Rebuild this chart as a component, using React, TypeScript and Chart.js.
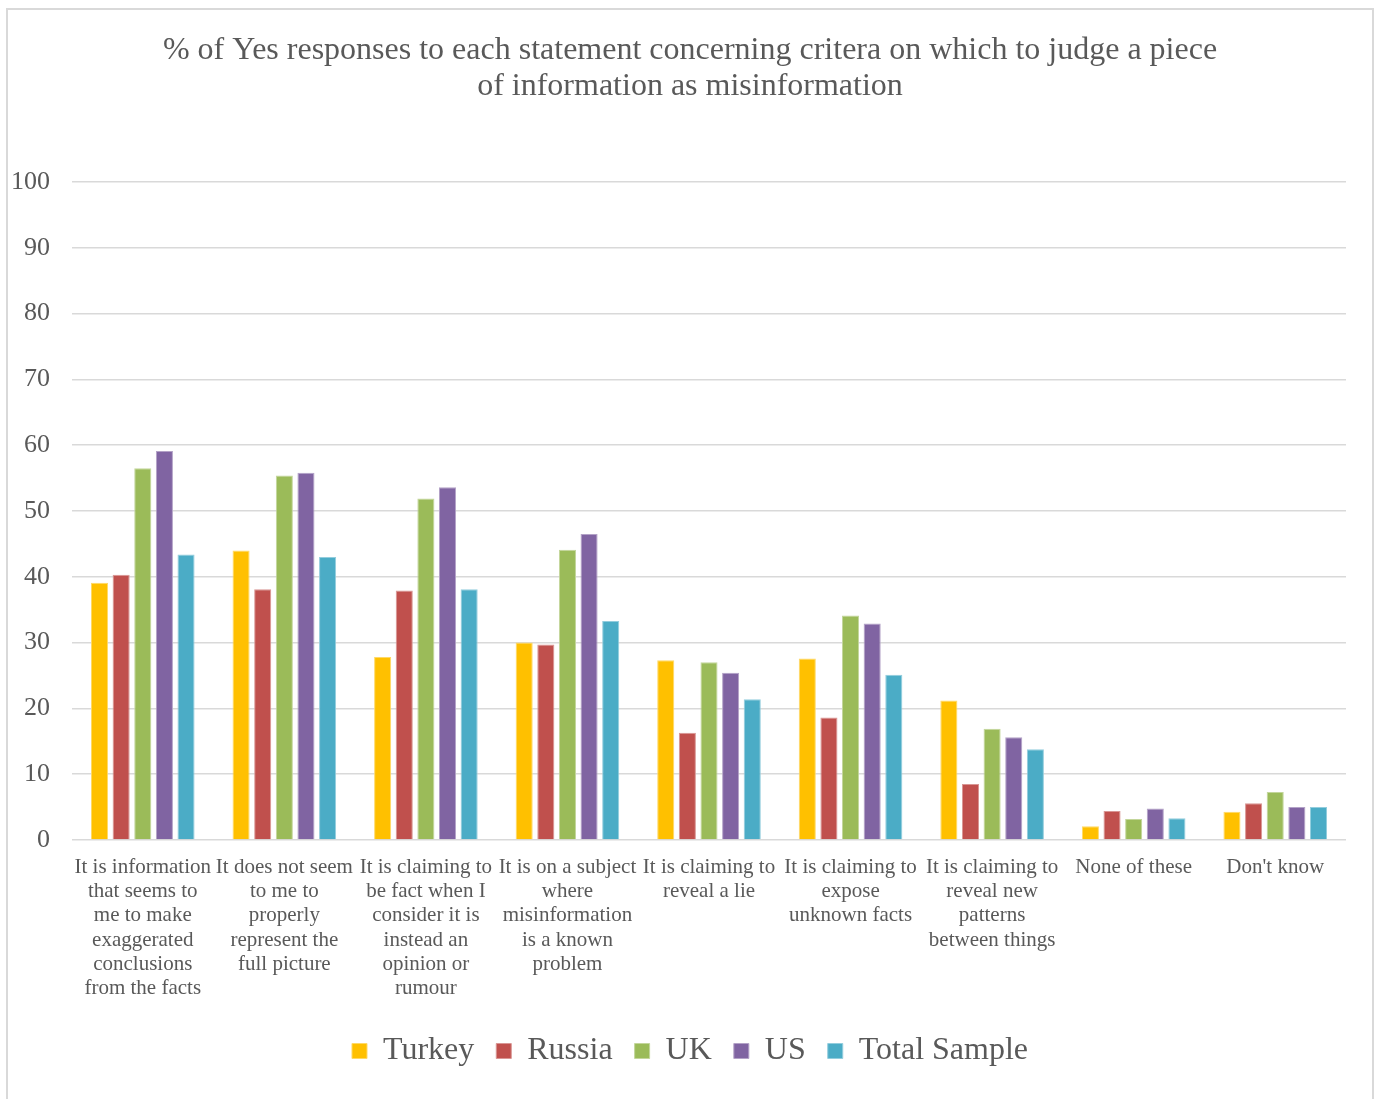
import React, { useEffect, useRef } from "react";
import { Chart, registerables } from "chart.js";

Chart.register(...registerables);

const categories: (string | string[])[] = [
  ["It is information", "that seems to", "me to make", "exaggerated", "conclusions", "from the facts"],
  ["It does not seem", "to me to", "properly", "represent the", "full picture"],
  ["It is claiming to", "be fact when I", "consider it is", "instead an", "opinion or", "rumour"],
  ["It is on a subject", "where", "misinformation", "is a known", "problem"],
  ["It is claiming to", "reveal a lie"],
  ["It is claiming to", "expose", "unknown facts"],
  ["It is claiming to", "reveal new", "patterns", "between things"],
  "None of these",
  "Don't know",
];

const turkey = [39.1, 44.0, 27.8, 30.0, 27.3, 27.6, 21.2, 2.1, 4.3];
const russia = [40.3, 38.1, 37.9, 29.7, 16.3, 18.6, 8.5, 4.4, 5.6];
const uk = [56.5, 55.4, 51.9, 44.1, 27.0, 34.1, 16.9, 3.2, 7.3];
const us = [59.1, 55.8, 53.6, 46.5, 25.4, 32.9, 15.6, 4.8, 5.0];
const totalSample = [43.4, 43.0, 38.1, 33.3, 21.4, 25.1, 13.8, 3.3, 5.0];

const seriesNames = ["Turkey", "Russia", "UK", "US", "Total Sample"];
const seriesColors = ["#FFC000", "#C0504D", "#9BBB59", "#8064A2", "#4BACC6"];
const seriesBorders = ["#FFD966", "#D99694", "#C3D69B", "#B3A2C7", "#93CDDD"];

const titleLines = [
  "% of Yes responses to each statement concerning critera on which to judge a piece",
  "of information as misinformation",
];

const FONT = "'Liberation Serif', 'Times New Roman', serif";
const TEXT = "#595959";

// centre the title and legend on the whole canvas rather than on the padded box
const centerFix = {
  id: "centerFix",
  afterLayout(chart: any) {
    const w = chart.width;
    if (chart.titleBlock) {
      chart.titleBlock.left = 0;
      chart.titleBlock.right = w;
    }
    if (chart.legend) {
      chart.legend.left = 0;
      chart.legend.right = w;
    }
  },
};

export default function App() {
  const canvasRef = useRef<HTMLCanvasElement | null>(null);

  useEffect(() => {
    if (!canvasRef.current) return;
    const values = [turkey, russia, uk, us, totalSample];
    const chart = new Chart(canvasRef.current, {
      type: "bar",
      data: {
        labels: categories,
        datasets: seriesNames.map((name, i) => ({
          label: name,
          data: values[i],
          backgroundColor: seriesColors[i],
          borderColor: seriesBorders[i],
          borderWidth: 1,
          categoryPercentage: 0.764,
          barPercentage: 0.79,
        })),
      },
      options: {
        animation: false,
        responsive: true,
        maintainAspectRatio: false,
        layout: { padding: { left: 0, right: 26, top: 0, bottom: 22 } },
        plugins: {
          tooltip: { enabled: false },
          title: {
            display: true,
            text: titleLines,
            color: TEXT,
            font: { family: FONT, size: 32, weight: "normal", lineHeight: 1.125 },
            padding: { top: 23, bottom: 77 },
          },
          legend: {
            display: true,
            position: "bottom",
            labels: {
              color: TEXT,
              font: { family: FONT, size: 32 },
              boxWidth: 15,
              boxHeight: 15,
              padding: 22,
            },
          },
        },
        scales: {
          x: {
            grid: { display: false },
            border: { display: false },
            ticks: {
              color: TEXT,
              font: { family: FONT, size: 21, lineHeight: 1.16 },
              padding: 7,
              maxRotation: 0,
              minRotation: 0,
              autoSkip: false,
            },
            afterFit: (scale: any) => {
              scale.height = 173;
            },
          },
          y: {
            min: 0,
            max: 100,
            grid: { color: "#d9d9d9", lineWidth: 1.5, drawTicks: false },
            border: { display: false },
            ticks: {
              stepSize: 10,
              color: TEXT,
              font: { family: FONT, size: 26 },
              padding: 22,
            },
            afterFit: (scale: any) => {
              scale.width = 64;
            },
          },
        },
      },
      plugins: [centerFix],
    });
    return () => chart.destroy();
  }, []);

  return (
    <div
      style={{
        position: "absolute",
        left: 6,
        top: 8,
        width: 1368,
        height: 1091,
        boxSizing: "border-box",
        borderTop: "2px solid #d9d9d9",
        borderLeft: "2px solid #d9d9d9",
        borderRight: "2px solid #d9d9d9",
        background: "#fff",
      }}
    >
      <div style={{ position: "relative", width: 1364, height: 1089 }}>
        <canvas ref={canvasRef} />
      </div>
    </div>
  );
}
